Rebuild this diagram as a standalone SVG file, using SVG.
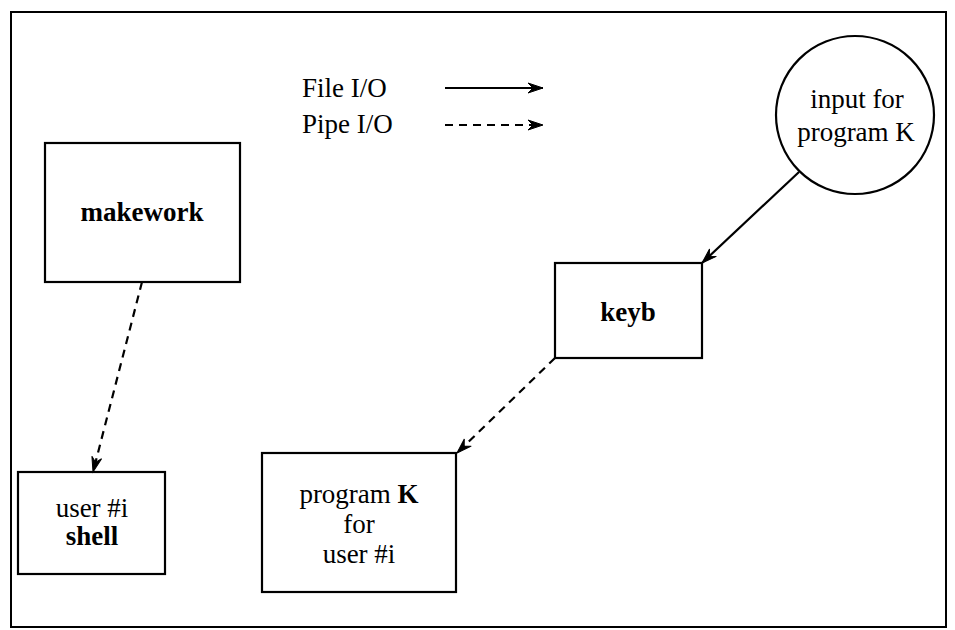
<svg xmlns="http://www.w3.org/2000/svg" width="955" height="630" viewBox="0 0 955 630">
<style>
.box{fill:#fff;stroke:#000;stroke-width:2.2}
.t{font-family:"Liberation Serif","Times New Roman",serif;font-size:27px;fill:#000;text-anchor:middle}
.l{font-family:"Liberation Serif","Times New Roman",serif;font-size:27px;fill:#000}
.b{font-weight:bold}
.c{fill:none;stroke:#000;stroke-width:2.2}
.d{stroke-dasharray:8 6}
</style>
<defs>
<marker id="ah" markerUnits="userSpaceOnUse" markerWidth="20" markerHeight="14" viewBox="-16 -7 18 14" refX="0" refY="0" orient="auto">
<path d="M0,0 L-15,-5 L-10,0 L-15,5 Z" fill="#000" stroke="#000" stroke-width="1"/>
</marker>
</defs>
<rect x="11" y="12" width="935" height="615" fill="#fff" stroke="#000" stroke-width="2"/>
<g id="legend">
<text class="l" x="302" y="97">File I/O</text>
<text class="l" x="302" y="133">Pipe I/O</text>
<line class="c" x1="445" y1="88" x2="543" y2="88" marker-end="url(#ah)"/>
<line class="c d" x1="445" y1="125" x2="543" y2="125" marker-end="url(#ah)"/>
</g>
<g id="makework">
<rect class="box" x="45" y="143" width="195" height="139"/>
<text class="t b" x="142" y="221">makework</text>
</g>
<g id="input">
<circle class="box" cx="855" cy="115" r="79"/>
<text class="t" x="857" y="108">input for</text>
<text class="t" x="856" y="141">program K</text>
</g>
<g id="keyb">
<rect class="box" x="555" y="263" width="147" height="95"/>
<text class="t b" x="628" y="321">keyb</text>
</g>
<g id="shell">
<rect class="box" x="18" y="472" width="147" height="102"/>
<text class="t" x="92" y="517">user #i</text>
<text class="t b" x="92" y="545">shell</text>
</g>
<g id="programK">
<rect class="box" x="262" y="453" width="194" height="139"/>
<text class="t" x="359" y="503">program <tspan class="b">K</tspan></text>
<text class="t" x="359" y="533">for</text>
<text class="t" x="359" y="563">user #i</text>
</g>
<g id="connectors">
<line class="c" x1="799" y1="172" x2="702" y2="263" marker-end="url(#ah)"/>
<line class="c d" x1="555" y1="358" x2="457" y2="453" marker-end="url(#ah)"/>
<line class="c d" x1="142" y1="282" x2="93" y2="472" marker-end="url(#ah)"/>
</g>
</svg>
